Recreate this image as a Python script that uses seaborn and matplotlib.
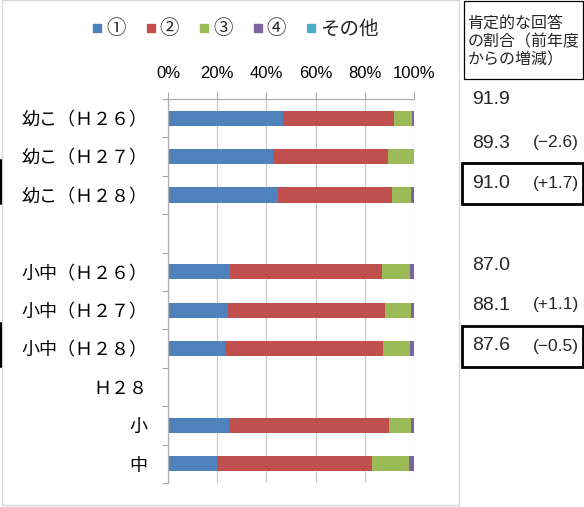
import numpy as np
import pandas as pd
import matplotlib
matplotlib.use("Agg")
import matplotlib.pyplot as plt
from matplotlib.lines import Line2D
from matplotlib.patches import Rectangle
import seaborn as sns

# ---------------- data ----------------
row_order = ["幼こ（Ｈ２６）", "幼こ（Ｈ２７）", "幼こ（Ｈ２８）", " ",
             "小中（Ｈ２６）", "小中（Ｈ２７）", "小中（Ｈ２８）", "Ｈ２８", "小", "中"]
bar_rows = ["幼こ（Ｈ２６）", "幼こ（Ｈ２７）", "幼こ（Ｈ２８）",
            "小中（Ｈ２６）", "小中（Ｈ２７）", "小中（Ｈ２８）", "小", "中"]
s1 = [46.7, 42.8, 44.6, 25.2, 24.3, 23.3, 24.8, 19.8]
s2 = [45.2, 46.5, 46.4, 61.8, 63.8, 64.3, 65.2, 63.0]
s3 = [7.4, 10.7, 7.7, 11.4, 10.5, 10.9, 8.8, 15.2]
s4 = [0.7, 0.0, 1.3, 1.6, 1.4, 1.5, 1.2, 2.0]
s_other = [0.0, 0.0, 0.0, 0.0, 0.0, 0.0, 0.0, 0.0]
series_names = ["①", "②", "③", "④", "その他"]
series_colors = ["#4F81BD", "#C0504D", "#9BBB59", "#8064A2", "#4BACC6"]
x_ticks = [0, 20, 40, 60, 80, 100]
x_ticklabels = ["0%", "20%", "40%", "60%", "80%", "100%"]

header_lines = ["肯定的な回答", "の割合（前年度", "からの増減）"]
rate_values = [91.9, 89.3, 91.0, 87.0, 88.1, 87.6]
rate_changes = [None, -2.6, 1.7, None, 1.1, -0.5]
rate_boxed = [False, False, True, False, False, True]

# ---------------- figure ----------------
sns.set_theme(style="white")
plt.rcParams["font.family"] = ["Noto Sans CJK JP", "DejaVu Sans"]

W, H = 584, 507
fig = plt.figure(figsize=(W / 100, H / 100), dpi=100)

def fx(px):
    return px / W

def fy(py):
    return 1 - py / H

ax = fig.add_axes([fx(168), fy(483), fx(414) - fx(168), fy(99) - fy(483)])

df = pd.DataFrame({"cat": bar_rows})
cols = [s1, s2, s3, s4, s_other]
cum = np.cumsum(np.array(cols), axis=0)
for i in range(len(cols) - 1, -1, -1):
    df["v"] = cum[i]
    sns.barplot(data=df, y="cat", x="v", order=row_order, orient="h",
                color=series_colors[i], saturation=1, width=0.4,
                linewidth=0, ax=ax, errorbar=None)

ax.set_xlim(0, 100)
ax.set_ylim(len(row_order) - 0.5, -0.5)
ax.set_xlabel("")
ax.set_ylabel("")

# x axis on top
ax.xaxis.tick_top()
ax.set_xticks(x_ticks)
ax.set_xticklabels(x_ticklabels, fontsize=12, family=["Liberation Sans", "DejaVu Sans"])
ax.tick_params(axis="x", which="major", top=True, bottom=False, length=5,
               width=0.8, color="#a6a6a6", pad=8, labelcolor="black")
ax.grid(axis="x", color="#c8c8c8", linewidth=0.9)
ax.grid(axis="y", visible=False)
ax.set_axisbelow(True)

# y axis
ax.set_yticks(range(len(row_order)))
ax.set_yticklabels(row_order, fontsize=13)
ax.set_yticks(np.arange(-0.5, len(row_order), 1.0), minor=True)
ax.tick_params(axis="y", which="major", length=0, pad=15, labelcolor="black")
ax.tick_params(axis="y", which="minor", left=True, length=4, width=0.8,
               color="#a6a6a6", direction="out")

for side in ["right", "bottom"]:
    ax.spines[side].set_visible(False)
for side in ["top", "left"]:
    ax.spines[side].set_visible(True)
    ax.spines[side].set_color("#b0b0b0")
    ax.spines[side].set_linewidth(0.9)

# legend
handles = [Line2D([0], [0], marker="s", linestyle="none", markersize=6,
                  markerfacecolor=c, markeredgecolor=c) for c in series_colors]
fig.legend(handles, series_names, loc="center", bbox_to_anchor=(fx(235), fy(29)),
           ncol=5, frameon=False, fontsize=14, handlelength=0.6,
           handletextpad=0.15, columnspacing=1.0, borderpad=0)

# chart outer frame
fig.add_artist(Rectangle((fx(2), fy(505)), fx(459) - fx(2), fy(0) - fy(505),
                         fill=False, edgecolor="#d9d9d9", linewidth=1.0,
                         transform=fig.transFigure))

# header box on the right
fig.add_artist(Rectangle((fx(464), fy(79)), fx(583) - fx(464), fy(0.5) - fy(79),
                         fill=False, edgecolor="black", linewidth=0.9,
                         transform=fig.transFigure))
for k, line in enumerate(header_lines):
    fig.text(fx(468), fy(23 + 18.5 * k), line, fontsize=11.5, va="center", ha="left")

# rate values
rate_y = [100, 143, 183, 265, 305, 346]
for val, chg, boxed, ypx in zip(rate_values, rate_changes, rate_boxed, rate_y):
    fig.text(fx(472), fy(ypx), f"{val:.1f}", fontsize=14, va="center", ha="left",
             family=["Liberation Sans", "DejaVu Sans"])
    if chg is not None:
        sign = "+" if chg > 0 else "−"
        fig.text(fx(579), fy(ypx), f"({sign}{abs(chg):.1f})", fontsize=12.5,
                 va="center", ha="right", family=["Liberation Sans", "DejaVu Sans"])
    if boxed:
        fig.add_artist(Rectangle((fx(461.5), fy(ypx + 21)), fx(582.5) - fx(461.5),
                                 fy(ypx - 20) - fy(ypx + 21), fill=False,
                                 edgecolor="black", linewidth=2.0,
                                 transform=fig.transFigure))
        fig.add_artist(Line2D([fx(0.8), fx(0.8)], [fy(ypx + 21), fy(ypx - 23)],
                              color="black", linewidth=1.5, transform=fig.transFigure))

fig.savefig("out.png", dpi=100)
